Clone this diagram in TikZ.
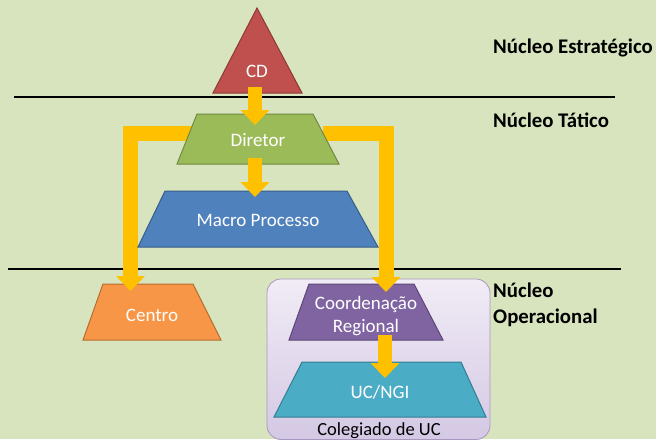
\documentclass[tikz,border=0pt]{standalone}
\usepackage{fontspec}
\setmainfont{Carlito}
\usetikzlibrary{arrows.meta,calc}
\definecolor{bgc}{HTML}{D7E4BD}
\definecolor{redf}{HTML}{C0504D}\definecolor{redb}{HTML}{8C3836}
\definecolor{grnf}{HTML}{9BBB59}\definecolor{grnb}{HTML}{71893F}
\definecolor{bluf}{HTML}{4F81BD}\definecolor{blub}{HTML}{385D8A}
\definecolor{orgf}{HTML}{F79646}\definecolor{orgb}{HTML}{B66D31}
\definecolor{purf}{HTML}{8064A2}\definecolor{purb}{HTML}{5C4776}
\definecolor{aquf}{HTML}{4BACC6}\definecolor{aqub}{HTML}{357D91}
\definecolor{arrc}{HTML}{FFC000}
\definecolor{boxtop}{HTML}{F1ECF6}\definecolor{boxbot}{HTML}{D4C8E4}\definecolor{boxb}{HTML}{A898C0}
\pgfdeclarelayer{base}
\pgfdeclarelayer{mid}
\pgfsetlayers{base,mid,main}
\tikzset{
  shp/.style={line width=1pt, line join=miter},
  txt/.style={inner sep=0pt, text=white, font=\fontsize{19}{23}\selectfont, align=center},
  arr/.style={draw=arrc, line width=14pt, -{Triangle[width=28pt,length=15pt]}},
  elbow/.style={arr, line width=15pt, line join=miter},
  sepline/.style={line width=2pt, black},
  lvl/.style={anchor=west, font=\bfseries\fontsize{20.8}{26}\selectfont, align=left, text=black, inner sep=0pt},
}
\begin{document}
\begin{tikzpicture}[x=1pt,y=-1pt]
\begin{pgfonlayer}{base}
\fill[bgc] (0,0) rectangle (656,439);
% separator lines
\draw[sepline] (14,97) -- (615,97);
\draw[sepline] (8,268.5) -- (621,268.5);
% Colegiado box
\draw[boxb, line width=0.8pt, top color=boxtop, bottom color=boxbot, rounded corners=14pt]
  (267,279) rectangle (490,439.5);
\node[font=\fontsize{18.5}{22}\selectfont, inner sep=0pt] (colegiado) at (379,431) {Colegiado de UC};
% Centro and Coordenacao (under the elbow arrows)
\draw[shp, draw=orgb, fill=orgf] (103,284) -- (193,284) -- (221,340) -- (83,340) -- cycle;
\node[txt] (Centro) at (152,315) {Centro};
\draw[shp, draw=purb, fill=purf] (309,284) -- (414,284) -- (443,340) -- (289,340) -- cycle;
\node[txt] (Coord) at (366,316) {Coordenação\\Regional};
\end{pgfonlayer}
\useasboundingbox (0,0) rectangle (656,439);

% CD triangle
\draw[shp, draw=redb, fill=redf] (257,8) -- (302,93) -- (213,93) -- cycle;
\node[txt] (CD) at (257,71) {CD};

% Diretor, Macro Processo, UC/NGI
\draw[shp, draw=grnb, fill=grnf] (197,114) -- (313,114) -- (339,164) -- (177,164) -- cycle;
\node[txt] (Diretor) at (258,140) {Diretor};
\draw[shp, draw=blub, fill=bluf] (165,191) -- (347,191) -- (378,247) -- (138,247) -- cycle;
\node[txt] (Macro) at (258,220) {Macro Processo};
\draw[shp, draw=aqub, fill=aquf] (302,362) -- (461,362) -- (486,417) -- (274,417) -- cycle;
\node[txt] (UC) at (380,392) {UC/NGI};

% elbow arrows (behind Diretor, over Centro and Coordenacao)
\begin{pgfonlayer}{mid}
\draw[elbow] ([shift={(-66,-7)}]Diretor.center) -| ([shift={(-21.5,-24)}]Centro.center);
\draw[elbow] ([shift={(65,-7)}]Diretor.center) -| ([shift={(20,-24)}]Coord.center);
\end{pgfonlayer}

% straight arrows
\draw[arr] ([shift={(-2,16)}]CD.center) -- ([shift={(-3,-15)}]Diretor.center);
\draw[arr] ([shift={(-3,18)}]Diretor.center) -- ([shift={(-3,-23)}]Macro.center);
\draw[arr] ([shift={(19,19)}]Coord.center) -- ([shift={(5,-14)}]UC.center);

% level labels
\node[lvl] (estr) at (493,48) {Núcleo Estratégico};
\node[lvl] (tat) at (493,120) {Núcleo Tático};
\node[lvl] (oper) at (493,305) {Núcleo\\Operacional};
\end{tikzpicture}
\end{document}
